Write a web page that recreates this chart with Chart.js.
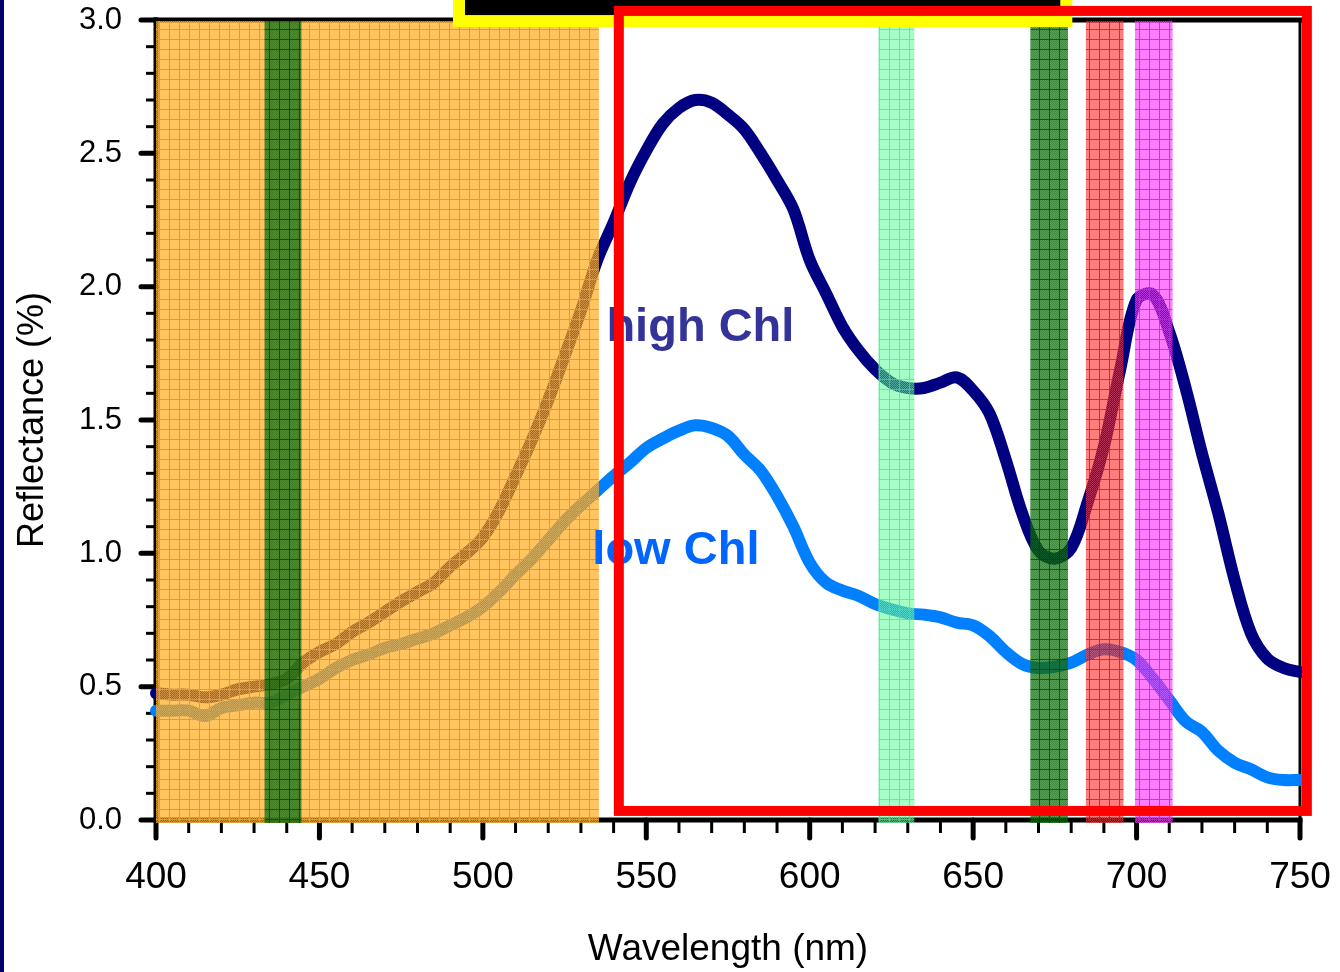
<!DOCTYPE html>
<html>
<head>
<meta charset="utf-8">
<title>Reflectance spectra</title>
<script src="https://cdn.jsdelivr.net/npm/chart.js@4.4.1/dist/chart.umd.min.js"></script>
<style>
  html, body { margin: 0; padding: 0; background: #fff; }
  canvas { display: block; }
</style>
</head>
<body>
<canvas id="spectrum" width="1340" height="972"></canvas>
<script>
// wavelength (nm) and reflectance (%) for the two leaf samples
const wavelengths = [400, 405, 410, 415, 420, 425, 430, 435, 440, 445,
                     450, 455, 460, 465, 470, 475, 480, 485, 490, 495,
                     500, 505, 510, 515, 520, 525, 530, 535, 540, 545,
                     550, 555, 560, 565, 570, 575, 580, 585, 590, 595,
                     600, 605, 610, 615, 620, 625, 630, 635, 640, 645,
                     650, 655, 660, 665, 670, 675, 680, 685, 690, 695,
                     700, 705, 710, 715, 720, 725, 730, 735, 740, 745, 750];

const highChl = [0.475, 0.47, 0.47, 0.46, 0.47, 0.49, 0.50, 0.51, 0.53, 0.59,
                 0.63, 0.66, 0.705, 0.74, 0.78, 0.82, 0.855, 0.89, 0.95, 1.00,
                 1.06, 1.16, 1.29, 1.425, 1.575, 1.74, 1.91, 2.10, 2.24, 2.39,
                 2.51, 2.61, 2.67, 2.70, 2.69, 2.645, 2.59, 2.50, 2.40, 2.29,
                 2.10, 1.975, 1.85, 1.76, 1.69, 1.64, 1.62, 1.62, 1.64, 1.66,
                 1.61, 1.525, 1.35, 1.15, 1.01, 0.98, 1.02, 1.19, 1.40, 1.69,
                 1.95, 1.97, 1.83, 1.62, 1.375, 1.15, 0.90, 0.70, 0.605, 0.57, 0.555];

const lowChl = [0.41, 0.41, 0.41, 0.39, 0.42, 0.43, 0.44, 0.44, 0.47, 0.50,
                0.53, 0.57, 0.60, 0.62, 0.645, 0.66, 0.68, 0.70, 0.73, 0.76,
                0.80, 0.855, 0.92, 0.98, 1.05, 1.12, 1.18, 1.235, 1.29, 1.34,
                1.395, 1.43, 1.46, 1.48, 1.47, 1.44, 1.37, 1.31, 1.215, 1.10,
                0.965, 0.89, 0.86, 0.84, 0.81, 0.79, 0.775, 0.77, 0.76, 0.74,
                0.73, 0.69, 0.63, 0.585, 0.57, 0.575, 0.59, 0.62, 0.64, 0.63,
                0.60, 0.53, 0.45, 0.37, 0.33, 0.26, 0.215, 0.19, 0.16, 0.15, 0.15];

const xTickValues = [400, 450, 500, 550, 600, 650, 700, 750];
const yTickLabels = ['0.0', '0.5', '1.0', '1.5', '2.0', '2.5', '3.0'];

// spectral bands [start nm, end nm]
const bandOrange = [400, 535.5];
const bandBlue   = [433.2, 444.5];
const bandGreen  = [621, 632];
const bandChlA   = [667.5, 679];
const bandRed    = [684.5, 696];
const bandEdge   = [699.5, 711];

const FONT = '"Liberation Sans", Arial, Helvetica, sans-serif';

function rows(ys) {
  return wavelengths.map((w, i) => ({ x: w, y: ys[i] }));
}

// semi-transparent cross-hatched fill used for the bands
function hatch(base, grid, speckle) {
  const c = document.createElement('canvas');
  c.width = c.height = 10;
  const g = c.getContext('2d');
  g.fillStyle = base;
  g.fillRect(0, 0, 10, 10);
  g.fillStyle = speckle;
  for (let i = 0; i < 9; i++)
    for (let j = 0; j < 9; j++)
      if ((i + j) % 2 === 0) g.fillRect(i, j, 1, 1);
  g.fillStyle = grid;
  g.fillRect(0, 9, 10, 1);
  g.fillRect(9, 0, 1, 9);
  return g.createPattern(c, 'repeat');
}

const frameAndTicks = {
  id: 'frameAndTicks',
  beforeDraw(chart) {
    const ctx = chart.ctx;
    ctx.save();
    ctx.fillStyle = '#000070';
    ctx.fillRect(0, 0, 4, chart.height);
    ctx.restore();
  },
  beforeDatasetsDraw(chart) {
    const { ctx, chartArea: a, scales: { x, y } } = chart;
    const seg = (x0, y0, x1, y1) => { ctx.beginPath(); ctx.moveTo(x0, y0); ctx.lineTo(x1, y1); ctx.stroke(); };
    ctx.save();
    ctx.strokeStyle = '#000';

    // minor ticks
    ctx.lineWidth = 3;
    ctx.lineCap = 'butt';
    for (let v = 410; v < 750; v += 10) {
      if (v % 50 === 0) continue;
      const px = x.getPixelForValue(v);
      seg(px, a.bottom, px, a.bottom + 13);
    }
    for (let k = 1; k < 30; k++) {
      if (k % 5 === 0) continue;
      const py = y.getPixelForValue(k / 10);
      seg(a.left, py, a.left - 10, py);
    }

    // major ticks
    ctx.lineWidth = 5;
    ctx.lineCap = 'round';
    xTickValues.forEach(v => {
      const px = x.getPixelForValue(v);
      seg(px, a.bottom, px, a.bottom + 18);
    });
    yTickLabels.forEach(t => {
      const py = y.getPixelForValue(parseFloat(t));
      seg(a.left, py, a.left - 15, py);
    });

    // plot frame
    ctx.lineCap = 'square';
    ctx.lineWidth = 3;
    seg(a.right, a.top, a.right, a.bottom);
    ctx.lineWidth = 5;
    seg(a.left, a.top, a.right, a.top);
    seg(a.left, a.bottom, a.right, a.bottom);
    seg(a.left, a.top, a.left, a.bottom);
    ctx.restore();
  }
};

const overlays = {
  id: 'overlays',
  afterDatasetsDraw(chart) {
    const { ctx, chartArea: a, scales: { x, y } } = chart;
    ctx.save();

    const bands = [
      [bandOrange, hatch('rgba(255,165,0,0.62)', 'rgba(255,150,0,1)', 'rgba(255,190,90,0.5)')],
      [bandBlue,   hatch('rgba(0,100,0,0.64)', 'rgba(0,80,0,0.85)', 'rgba(40,120,40,0.5)')],
      [bandGreen,  hatch('rgba(60,255,130,0.45)', 'rgba(60,240,120,0.75)', 'rgba(160,255,200,0.4)')],
      [bandChlA,   hatch('rgba(0,100,0,0.64)', 'rgba(0,80,0,0.85)', 'rgba(40,120,40,0.5)')],
      [bandRed,    hatch('rgba(255,0,0,0.5)', 'rgba(255,0,0,0.8)', 'rgba(255,120,120,0.4)')],
      [bandEdge,   hatch('rgba(255,0,255,0.52)', 'rgba(255,0,255,0.85)', 'rgba(255,130,255,0.4)')]
    ];
    const top = a.top + 1, bottom = a.bottom + 3;
    bands.forEach(([[w0, w1], fill]) => {
      const x0 = x.getPixelForValue(w0), x1 = x.getPixelForValue(w1);
      ctx.fillStyle = fill;
      ctx.fillRect(x0, top, x1 - x0, bottom - top);
    });

    // curve labels
    ctx.font = 'bold 47px ' + FONT;
    ctx.textBaseline = 'alphabetic';
    ctx.textAlign = 'left';
    ctx.fillStyle = '#333399';
    ctx.fillText('high Chl', x.getPixelForValue(537.8), y.getPixelForValue(1.796));
    ctx.fillStyle = '#0066ff';
    ctx.fillText('low Chl', x.getPixelForValue(533.5), y.getPixelForValue(0.961));

    // black box with yellow outline along the top edge
    const yl = x.getPixelForValue(492.7), yr = x.getPixelForValue(678.5);
    const yb = y.getPixelForValue(2.996), yt = y.getPixelForValue(3.25);
    ctx.fillStyle = '#000';
    ctx.fillRect(yl, yt, yr - yl, yb - yt);
    ctx.strokeStyle = '#ffff00';
    ctx.lineWidth = 12;
    ctx.lineJoin = 'miter';
    ctx.strokeRect(yl, yt, yr - yl, yb - yt);

    // red selection box
    const rl = x.getPixelForValue(541.6), rr = x.getPixelForValue(752.1);
    const rt = y.getPixelForValue(3.034), rb = y.getPixelForValue(0.034);
    ctx.strokeStyle = '#ff0000';
    ctx.lineWidth = 10;
    ctx.strokeRect(rl, rt, rr - rl, rb - rt);

    ctx.restore();
  }
};

new Chart(document.getElementById('spectrum'), {
  type: 'line',
  data: {
    datasets: [
      { label: 'high Chl', data: rows(highChl), borderColor: '#000080' },
      { label: 'low Chl', data: rows(lowChl), borderColor: '#0080ff' }
    ]
  },
  options: {
    responsive: false,
    animation: false,
    layout: { padding: { top: 20, right: 40, left: 0, bottom: 0 } },
    plugins: { legend: { display: false }, tooltip: { enabled: false } },
    elements: {
      point: { radius: 0 },
      line: { borderWidth: 12, borderCapStyle: 'round', borderJoinStyle: 'round', tension: 0.35, fill: false }
    },
    datasets: { line: { clip: false } },
    scales: {
      x: {
        type: 'linear',
        min: 400,
        max: 750,
        grid: { display: false, drawTicks: false },
        border: { display: false },
        afterBuildTicks: s => { s.ticks = xTickValues.map(v => ({ value: v })); },
        afterFit: s => { s.height = 152; s.paddingLeft = 0; s.paddingRight = 0; },
        ticks: { color: '#000', font: { family: FONT, size: 37 }, padding: 36, maxRotation: 0, autoSkip: false },
        title: { display: true, text: 'Wavelength (nm)', color: '#000', font: { family: FONT, size: 37 }, padding: { top: 0, bottom: 0 } }
      },
      y: {
        min: 0,
        max: 3,
        grid: { display: false, drawTicks: false },
        border: { display: false },
        afterBuildTicks: s => { s.ticks = yTickLabels.map(t => ({ value: parseFloat(t) })); },
        afterFit: s => { s.width = 156; s.paddingTop = 0; s.paddingBottom = 0; },
        ticks: { color: '#000', font: { family: FONT, size: 31 }, padding: 34, callback: v => v.toFixed(1) },
        title: { display: true, text: 'Reflectance (%)', color: '#000', font: { family: FONT, size: 36 }, padding: { top: 11, bottom: 0 } }
      }
    }
  },
  plugins: [frameAndTicks, overlays]
});
</script>
</body>
</html>
